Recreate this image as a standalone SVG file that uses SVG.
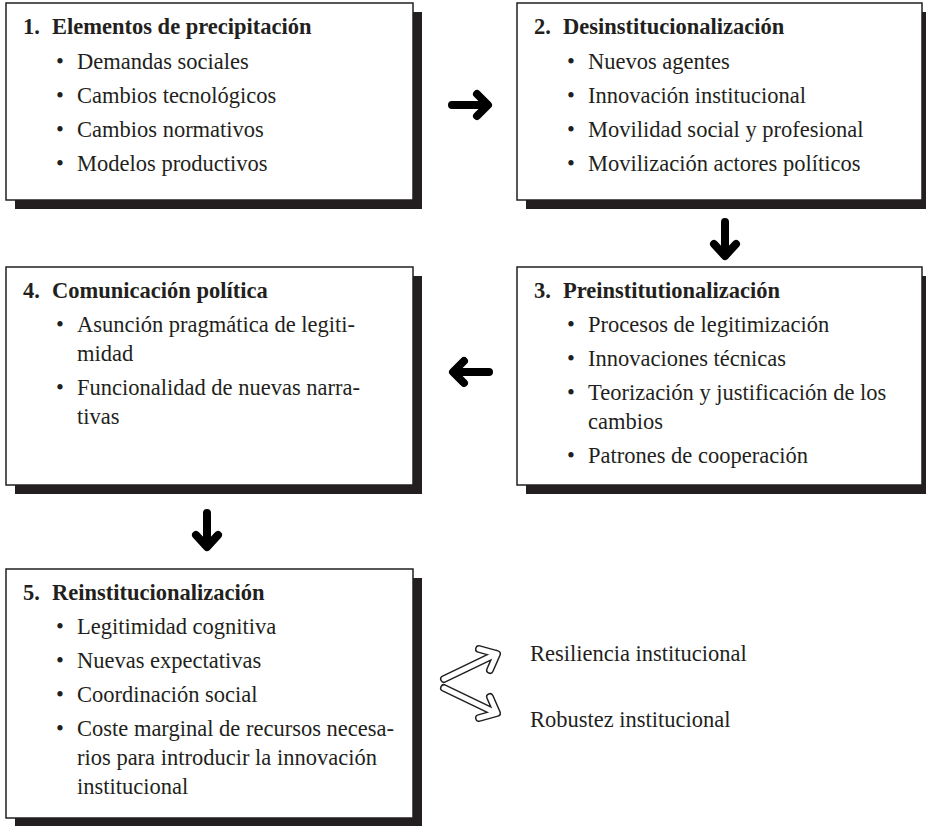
<svg xmlns="http://www.w3.org/2000/svg" width="926" height="826" viewBox="0 0 926 826">
<style>
.shadow{fill:#231f20}
.box{fill:#fff;stroke:#231f20;stroke-width:1.5}
text{font-family:"Liberation Serif","Times New Roman",serif;font-size:22.5px;fill:#231f20}
.t{font-weight:bold}
.arr{fill:none;stroke:#000;stroke-width:8;stroke-linecap:round;stroke-linejoin:round}
.ho{fill:none;stroke:#231f20;stroke-width:8;stroke-linecap:round;stroke-linejoin:round}
.hi{fill:none;stroke:#fff;stroke-width:5;stroke-linecap:round;stroke-linejoin:round}
</style>
<rect width="926" height="826" fill="#fff"/>
<g id="node1">
<rect class="shadow" x="15" y="12" width="407" height="197"/>
<rect class="box" x="6" y="3" width="407" height="197"/>
<text class="t" x="23" y="34">1.</text><text class="t" x="52" y="34">Elementos de precipitación</text>
<text x="56" y="69">•</text><text x="77" y="69">Demandas sociales</text>
<text x="56" y="103">•</text><text x="77" y="103">Cambios tecnológicos</text>
<text x="56" y="137">•</text><text x="77" y="137">Cambios normativos</text>
<text x="56" y="171">•</text><text x="77" y="171">Modelos productivos</text>
</g>
<g id="node2">
<rect class="shadow" x="526" y="12" width="405" height="197"/>
<rect class="box" x="517" y="3" width="405" height="197"/>
<text class="t" x="534" y="34">2.</text><text class="t" x="563" y="34">Desinstitucionalización</text>
<text x="567" y="69">•</text><text x="588" y="69">Nuevos agentes</text>
<text x="567" y="103">•</text><text x="588" y="103">Innovación institucional</text>
<text x="567" y="137">•</text><text x="588" y="137">Movilidad social y profesional</text>
<text x="567" y="171">•</text><text x="588" y="171">Movilización actores políticos</text>
</g>
<g id="node3">
<rect class="shadow" x="526" y="276" width="405" height="218"/>
<rect class="box" x="517" y="267" width="405" height="218"/>
<text class="t" x="534" y="298">3.</text><text class="t" x="563" y="298">Preinstitutionalización</text>
<text x="567" y="332">•</text><text x="588" y="332">Procesos de legitimización</text>
<text x="567" y="366">•</text><text x="588" y="366">Innovaciones técnicas</text>
<text x="567" y="400">•</text><text x="588" y="400">Teorización y justificación de los</text>
<text x="588" y="429">cambios</text>
<text x="567" y="463">•</text><text x="588" y="463">Patrones de cooperación</text>
</g>
<g id="node4">
<rect class="shadow" x="15" y="276" width="407" height="218"/>
<rect class="box" x="6" y="267" width="407" height="218"/>
<text class="t" x="23" y="298">4.</text><text class="t" x="52" y="298">Comunicación política</text>
<text x="56" y="332">•</text><text x="77" y="332">Asunción pragmática de legiti-</text>
<text x="77" y="361">midad</text>
<text x="56" y="395">•</text><text x="77" y="395">Funcionalidad de nuevas narra-</text>
<text x="77" y="424">tivas</text>
</g>
<g id="node5">
<rect class="shadow" x="15" y="578" width="407" height="249"/>
<rect class="box" x="6" y="569" width="407" height="249"/>
<text class="t" x="23" y="600">5.</text><text class="t" x="52" y="600">Reinstitucionalización</text>
<text x="56" y="634">•</text><text x="77" y="634">Legitimidad cognitiva</text>
<text x="56" y="668">•</text><text x="77" y="668">Nuevas expectativas</text>
<text x="56" y="702">•</text><text x="77" y="702">Coordinación social</text>
<text x="56" y="736">•</text><text x="77" y="736">Coste marginal de recursos necesa-</text>
<text x="77" y="765">rios para introducir la innovación</text>
<text x="77" y="794">institucional</text>
</g>
<g id="outcomes">
<text x="530" y="661">Resiliencia institucional</text>
<text x="530" y="727">Robustez institucional</text>
</g>
<g id="connectors">
<path class="arr" d="M452,105 H487 M477,94 L488,105 L477,116"/>
<path class="arr" d="M725,222 V255 M714,244 L725,256 L736,244"/>
<path class="arr" d="M489,372 H454 M464,361 L453,372 L464,383"/>
<path class="arr" d="M207,513 V546 M196,535 L207,547 L218,535"/>
<path class="ho" d="M444,679 L496,654 M479,649 L497,654 L490,670"/>
<path class="hi" d="M444,679 L496,654 M479,649 L497,654 L490,670"/>
<path class="ho" d="M444,688 L496,713 M479,718 L497,713 L490,697"/>
<path class="hi" d="M444,688 L496,713 M479,718 L497,713 L490,697"/>
</g>
</svg>
